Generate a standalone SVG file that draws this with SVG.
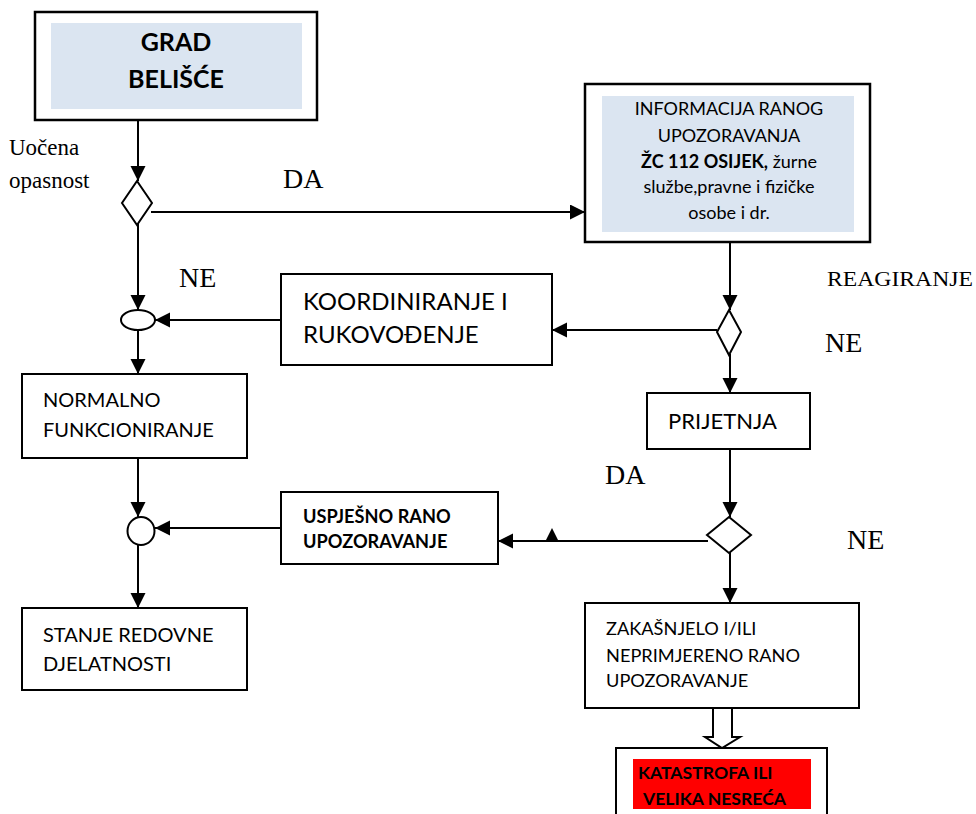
<svg xmlns="http://www.w3.org/2000/svg" width="976" height="814" viewBox="0 0 976 814">
  <style>
    .box { fill: #ffffff; stroke: #000000; stroke-width: 2; }
    .boxb { fill: #ffffff; stroke: #000000; stroke-width: 2.5; }
    .blue { fill: #dbe5f1; stroke: none; }
    .sans { font-family: Lato, "Open Sans", "Liberation Sans", sans-serif; fill: #000000; }
    .bold { font-weight: bold; }
    .serif { font-family: "Liberation Serif", "Times New Roman", serif; fill: #000000; }
    .wire { stroke: #000000; stroke-width: 2; fill: none; }
    .arr { marker-end: url(#head); }
    .node { fill: #ffffff; stroke: #000000; stroke-width: 2; }
  </style>
  <defs>
    <marker id="head" markerUnits="userSpaceOnUse" markerWidth="16" markerHeight="16" refX="15" refY="7.5" orient="auto">
      <path d="M0,0 L15,7.5 L0,15 z" fill="#000000"/>
    </marker>
  </defs>
  <rect width="976" height="814" fill="#ffffff"/>

  <!-- connectors -->
  <g id="connectors">
    <line class="wire arr" x1="138" y1="120" x2="138" y2="181"/>
    <line class="wire arr" x1="151" y1="212" x2="585" y2="212"/>
    <line class="wire arr" x1="138" y1="224" x2="138" y2="310"/>
    <line class="wire arr" x1="281" y1="320" x2="155" y2="320"/>
    <line class="wire arr" x1="730" y1="242" x2="730" y2="310"/>
    <line class="wire arr" x1="717" y1="330" x2="552" y2="330"/>
    <line class="wire arr" x1="730" y1="354" x2="730" y2="393"/>
    <line class="wire arr" x1="138" y1="330" x2="138" y2="374"/>
    <line class="wire arr" x1="138" y1="458" x2="138" y2="517"/>
    <line class="wire arr" x1="281" y1="528" x2="155" y2="528"/>
    <line class="wire arr" x1="730" y1="449" x2="730" y2="517"/>
    <line class="wire arr" x1="708" y1="541" x2="498" y2="541"/>
    <polygon points="545.5,541 558.5,541 552,528" fill="#000000"/>
    <line class="wire arr" x1="730" y1="552" x2="730" y2="603"/>
    <line class="wire arr" x1="138" y1="545" x2="138" y2="608"/>
    <polygon class="wire" points="713,708 713,737 705,737 722,748 740,737 732,737 732,708" fill="#ffffff"/>
  </g>

  <!-- flow labels -->
  <g id="labels">
    <text class="serif" x="9" y="155" font-size="23">Uočena</text>
    <text class="serif" x="9" y="188" font-size="23">opasnost</text>
    <text class="serif" x="283" y="188" font-size="28">DA</text>
    <text class="serif" x="179" y="287" font-size="28">NE</text>
    <text class="serif" x="827" y="286" font-size="21" textLength="146" lengthAdjust="spacingAndGlyphs">REAGIRANJE</text>
    <text class="serif" x="825" y="352" font-size="28">NE</text>
    <text class="serif" x="605" y="484" font-size="28">DA</text>
    <text class="serif" x="847" y="549" font-size="28">NE</text>
  </g>

  <g id="grad">
    <rect class="boxb" x="35" y="12" width="282" height="108"/>
    <rect class="blue" x="51" y="23" width="251" height="86"/>
    <text class="sans bold" x="176" y="51" font-size="25" text-anchor="middle">GRAD</text>
    <text class="sans bold" x="176" y="88" font-size="25" text-anchor="middle">BELIŠĆE</text>
  </g>

  <g id="odluka-opasnost">
    <polygon class="node" points="137,181 152,203 137,225 122,203"/>
  </g>

  <g id="informacija">
    <rect class="boxb" x="585" y="84" width="285" height="158"/>
    <rect class="blue" x="602" y="96" width="252" height="136"/>
    <g class="sans" font-size="18" text-anchor="middle">
      <text x="729" y="115">INFORMACIJA RANOG</text>
      <text x="729" y="142">UPOZORAVANJA</text>
      <text x="729" y="168"><tspan class="bold">ŽC 112 OSIJEK,</tspan> žurne</text>
      <text x="729" y="193">službe,pravne i fizičke</text>
      <text x="729" y="219">osobe i dr.</text>
    </g>
  </g>

  <g id="spoj-1">
    <ellipse class="node" cx="138" cy="320" rx="17" ry="10"/>
  </g>

  <g id="koordiniranje">
    <rect class="box" x="281" y="274" width="271" height="91"/>
    <text class="sans" x="303" y="310" font-size="24">KOORDINIRANJE I</text>
    <text class="sans" x="303" y="343" font-size="24">RUKOVOĐENJE</text>
  </g>

  <g id="odluka-reagiranje">
    <polygon class="node" points="729,310 741,332 729,355 717,332"/>
  </g>

  <g id="normalno">
    <rect class="box" x="22" y="374" width="225" height="84"/>
    <text class="sans" x="43" y="407" font-size="20">NORMALNO</text>
    <text class="sans" x="43" y="437" font-size="20">FUNKCIONIRANJE</text>
  </g>

  <g id="prijetnja">
    <rect class="box" x="647" y="393" width="163" height="56"/>
    <text class="sans" x="668" y="429" font-size="22">PRIJETNJA</text>
  </g>

  <g id="spoj-2">
    <ellipse class="node" cx="141" cy="531" rx="13.5" ry="14"/>
  </g>

  <g id="uspjesno">
    <rect class="box" x="281" y="492" width="217" height="72"/>
    <text class="sans bold" x="303" y="523" font-size="18.2">USPJEŠNO RANO</text>
    <text class="sans bold" x="303" y="548" font-size="18.2">UPOZORAVANJE</text>
  </g>

  <g id="odluka-prijetnja">
    <polygon class="node" points="729,517 751,535 729,553 707,535"/>
  </g>

  <g id="stanje">
    <rect class="box" x="22" y="608" width="225" height="82"/>
    <text class="sans" x="43" y="642" font-size="20">STANJE REDOVNE</text>
    <text class="sans" x="43" y="671" font-size="20">DJELATNOSTI</text>
  </g>

  <g id="zakasnjelo">
    <rect class="box" x="585" y="603" width="274" height="105"/>
    <text class="sans" x="606" y="635" font-size="18.2">ZAKAŠNJELO I/ILI</text>
    <text class="sans" x="606" y="662" font-size="18.2">NEPRIMJERENO RANO</text>
    <text class="sans" x="606" y="687" font-size="18.2">UPOZORAVANJE</text>
  </g>

  <g id="katastrofa">
    <rect class="box" x="616" y="748" width="211" height="90"/>
    <rect x="633" y="759" width="178" height="50" fill="#ff0000"/>
    <text class="sans bold" x="638" y="779" font-size="17.6">KATASTROFA ILI</text>
    <text class="sans bold" x="643" y="805" font-size="17.6">VELIKA NESREĆA</text>
  </g>
</svg>
